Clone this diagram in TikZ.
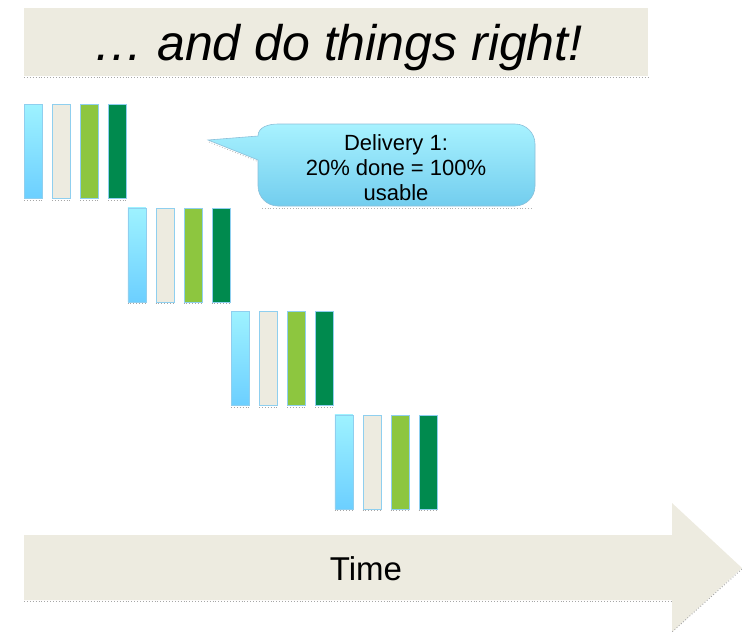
\documentclass[tikz,border=0pt]{standalone}
\usepackage{fontspec}
\setmainfont{Liberation Sans}
\definecolor{beige}{HTML}{EDEBE0}
\definecolor{cyantop}{HTML}{9EF2FF}
\definecolor{cyanbot}{HTML}{6CCFFF}
\definecolor{lgreen}{HTML}{8DC63F}
\definecolor{dgreen}{HTML}{008A4E}
\definecolor{barline}{HTML}{8FCFEF}
\definecolor{calltop}{HTML}{A8F2FF}
\definecolor{callbot}{HTML}{72CDEE}
\begin{document}
\begin{tikzpicture}[x=1pt,y=-1pt,
  bar/.style={draw=barline,line width=0.8pt,minimum width=18pt,minimum height=94pt,inner sep=0pt,anchor=north west},
  shadowline/.style={draw=gray!70,line width=0.9pt,dotted},
  titlefont/.style={font=\itshape\fontsize{50}{54}\selectfont,inner sep=0pt,anchor=base},
  callfont/.style={font=\fontsize{22}{24.5}\selectfont,align=center,inner sep=0pt,anchor=base},
  timefont/.style={font=\fontsize{33}{36}\selectfont,inner sep=0pt,anchor=base}]
\useasboundingbox (0,0) rectangle (742,632);
% title bar
\fill[beige] (24,8) rectangle (648,76);
\draw[shadowline] (24,77) -- (648,77);
\node[titlefont] (title) at (338,60) {… and do things right!};
% bars
\foreach \g in {0,1,2,3}{
  \pgfmathsetmacro{\xo}{24+103.5*\g}
  \pgfmathsetmacro{\yo}{104+103.5*\g}
  \node[bar,top color=cyantop,bottom color=cyanbot] (c\g) at (\xo,\yo) {};
  \node[bar,fill=beige] (e\g) at (\xo+28,\yo) {};
  \node[bar,fill=lgreen] (g\g) at (\xo+56,\yo) {};
  \node[bar,fill=dgreen] (d\g) at (\xo+84,\yo) {};
  \foreach \b in {c,e,g,d}{
    \draw[shadowline,line width=0.7pt] ([yshift=-1.5pt]\b\g.south west) -- ([yshift=-1.5pt]\b\g.south east);
  }
}
% callout
\coordinate (tip) at (208,140);
\draw[gray!60,line width=0.8pt,dotted] (209,142) -- (259,162);
\draw[gray!60,line width=0.8pt,dotted] (262,208) -- (533,208);
\path[draw=barline!80!gray,line width=0.6pt,top color=calltop,bottom color=callbot]
  (278,124) -- (515,124) to[out=0,in=90] (535,144) -- (535,186)
  to[out=-90,in=0] (515,206) -- (278,206) to[out=180,in=-90] (258,186)
  -- (258,160) -- (tip) -- (258,136) to[out=90,in=180] (278,124) -- cycle;
\node[callfont] (call1) at (396,150) {Delivery 1:};
\node[callfont] (call2) at (396,175) {20\% done = 100\%};
\node[callfont] (call3) at (396,200) {usable};
% time arrow
\fill[beige] (24,535) -- (672,535) -- (672,503) -- (742,568) -- (672,632) -- (672,600) -- (24,600) -- cycle;
\draw[shadowline] (24,601) -- (672,601);
\draw[shadowline] (742,569) -- (672,632);
\node[timefont] (time) at (366,580) {Time};
\end{tikzpicture}
\end{document}
